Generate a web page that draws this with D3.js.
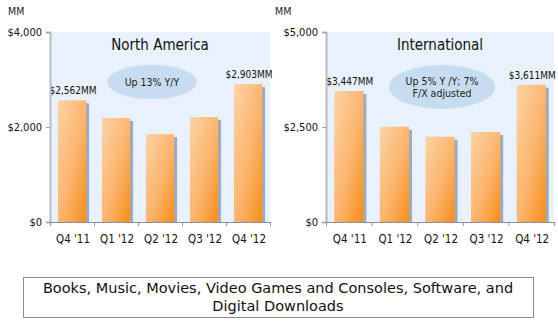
<!DOCTYPE html>
<html>
<head>
<meta charset="utf-8">
<script src="https://cdn.jsdelivr.net/npm/d3@7"></script>
<style>
  html, body { margin: 0; padding: 0; background: #fff; }
  svg { display: block; font-family: "DejaVu Sans Condensed", "DejaVu Sans", sans-serif; }
  .foot { font-family: "DejaVu Sans", sans-serif; }
</style>
</head>
<body>
<svg id="chart" width="558" height="325"></svg>
<script>
// Quarterly revenue, media segment (US$ millions)
const quarters = ["Q4 '11", "Q1 '12", "Q2 '12", "Q3 '12", "Q4 '12"];
const northAmerica = [2562, 2190, 1850, 2210, 2903];
const international = [3447, 2508, 2245, 2368, 3611];
const naTicks = [0, 2000, 4000];
const intlTicks = [0, 2500, 5000];
const naNote = ["Up 13% Y/Y"];
const intlNote = ["Up 5% Y /Y; 7%", "F/X adjusted"];
const footnote = ["Books, Music, Movies, Video Games and Consoles, Software, and", "Digital Downloads"];

const svg = d3.select("#chart");
const defs = svg.append("defs");

const grad = defs.append("linearGradient")
  .attr("id", "barFill")
  .attr("x1", "0%").attr("y1", "0%")
  .attr("x2", "100%").attr("y2", "100%");
grad.append("stop").attr("offset", "0%").attr("stop-color", "#fdd3a8");
grad.append("stop").attr("offset", "55%").attr("stop-color", "#fbb46c");
grad.append("stop").attr("offset", "100%").attr("stop-color", "#f78d1a");

const fmt = v => "$" + d3.format(",")(v);

function panel(opts) {
  const g = svg.append("g");
  const y = d3.scaleLinear().domain([0, opts.max]).range([222, 32]);
  const x = d3.scaleBand().domain(quarters).range([opts.x0, opts.x1]).paddingInner(0.36).paddingOuter(0.18);

  // plot background
  g.append("rect")
    .attr("x", opts.x0 + 1).attr("y", y(opts.max))
    .attr("width", opts.x1 - opts.x0 - 1).attr("height", y(0) - y(opts.max))
    .attr("fill", "#e9f1fc");

  // units label
  g.append("text").attr("x", opts.mmX).attr("y", 15)
    .attr("font-size", 10.5).attr("fill", "#222").text("MM");

  // title
  g.append("text").attr("x", (opts.x0 + opts.x1) / 2).attr("y", 50)
    .attr("text-anchor", "middle").attr("font-size", 15).attr("fill", "#111")
    .text(opts.title);

  // note ellipse
  g.append("ellipse")
    .attr("cx", opts.note.cx).attr("cy", opts.note.cy)
    .attr("rx", opts.note.rx).attr("ry", opts.note.ry)
    .attr("fill", "#c6dcf0");
  opts.note.lines.forEach((t, i) => {
    g.append("text")
      .attr("x", opts.note.cx)
      .attr("y", opts.note.cy + 4 + (i - (opts.note.lines.length - 1) / 2) * 12)
      .attr("text-anchor", "middle").attr("font-size", 10.5).attr("fill", "#222")
      .text(t);
  });

  // bar shadows
  g.selectAll("rect.shadow").data(opts.values).join("rect")
    .attr("class", "shadow")
    .attr("x", (d, i) => x(quarters[i]) + 3)
    .attr("y", d => y(d) + 3)
    .attr("width", x.bandwidth())
    .attr("height", d => y(0) - y(d) - 3)
    .attr("fill", "#8f9aa6").attr("opacity", 0.8);

  // bars
  g.selectAll("rect.bar").data(opts.values).join("rect")
    .attr("class", "bar")
    .attr("x", (d, i) => x(quarters[i]))
    .attr("y", d => y(d))
    .attr("width", x.bandwidth())
    .attr("height", d => y(0) - y(d))
    .attr("fill", "url(#barFill)");

  // value labels on first and last bars
  [0, opts.values.length - 1].forEach(i => {
    g.append("text")
      .attr("x", x(quarters[i]) + x.bandwidth() / 2 + 1)
      .attr("y", y(opts.values[i]) - 6)
      .attr("text-anchor", "middle").attr("font-size", 10).attr("fill", "#111")
      .text(fmt(opts.values[i]) + "MM");
  });

  // y axis
  const yAxis = g.append("g").attr("transform", `translate(${opts.x0},0)`)
    .call(d3.axisLeft(y).tickValues(opts.ticks).tickFormat(fmt).tickSize(4).tickPadding(4));
  yAxis.select(".domain").attr("stroke", "#b8bcc2").attr("stroke-width", 2);
  yAxis.selectAll(".tick line").attr("stroke", "#9aa0a6");
  yAxis.selectAll(".tick text").attr("font-size", 11).attr("fill", "#111")
    .attr("font-family", "DejaVu Sans Condensed, DejaVu Sans, sans-serif");

  // x axis with ticks at category boundaries
  const xb = d3.scaleLinear().domain([0, quarters.length]).range([opts.x0, opts.x1]);
  const xAxis = g.append("g").attr("transform", `translate(0,${y(0)})`)
    .call(d3.axisBottom(xb).tickValues(d3.range(quarters.length + 1))
      .tickFormat("").tickSize(4).tickSizeOuter(0));
  xAxis.select(".domain").attr("stroke", "#8a9096");
  xAxis.selectAll(".tick line").attr("stroke", "#8a9096");

  g.selectAll("text.cat").data(quarters).join("text")
    .attr("class", "cat")
    .attr("x", d => x(d) + x.bandwidth() / 2 + 1)
    .attr("y", 243)
    .attr("text-anchor", "middle").attr("font-size", 11.5).attr("fill", "#111")
    .text(d => d);
}

panel({
  title: "North America", values: northAmerica, max: 4000, ticks: naTicks,
  x0: 50, x1: 270, mmX: 8,
  note: { cx: 152, cy: 82, rx: 45, ry: 17, lines: naNote }
});

panel({
  title: "International", values: international, max: 5000, ticks: intlTicks,
  x0: 326, x1: 554, mmX: 275,
  note: { cx: 442, cy: 87, rx: 53, ry: 22, lines: intlNote }
});

// footnote box
svg.append("rect")
  .attr("x", 23.5).attr("y", 277.5).attr("width", 510).attr("height", 40)
  .attr("fill", "#fff").attr("stroke", "#8a8a8a");
footnote.forEach((t, i) => {
  svg.append("text")
    .attr("class", "foot")
    .attr("x", 278).attr("y", 293 + i * 18)
    .attr("text-anchor", "middle").attr("font-size", 14.5).attr("fill", "#111")
    .text(t);
});
</script>
</body>
</html>
